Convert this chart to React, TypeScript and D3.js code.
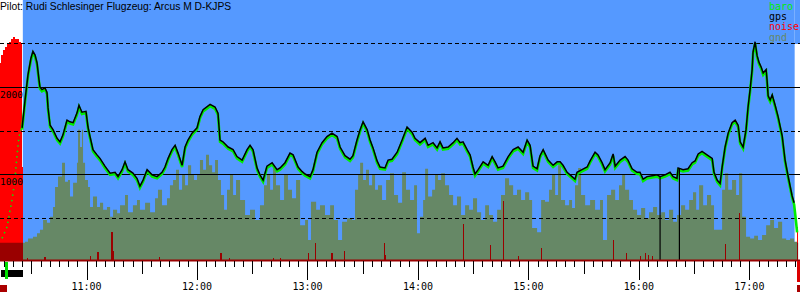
import React from "react";
import * as d3 from "d3";

const W = 800;
const H = 300;

const title = "Pilot: Rudi Schlesinger Flugzeug: Arcus M D-KJPS";
const legendNames = ["baro", "gps", "noise", "gnd"];
const legendColors = ["#00ee00", "#000000", "#ff0000", "#668866"];
const solidLevels = [1000, 2000];
const dashedLevels = [500, 1500, 2500];
const altLabels = [1000, 2000];

// time in minutes after 10:00
const timeDomain = [13, 447.5];
const flightWindow = [25.4, 444.6];

const fixTimes = [
  25.0, 26.6, 28.2, 29.8, 30.9, 32.0, 33.1, 34.2, 34.7, 35.8,
  37.4, 38.5, 39.1, 40.2, 41.8, 44.0, 45.6, 47.2, 49.4, 51.0,
  52.7, 54.8, 55.9, 57.5, 59.7, 60.8, 61.9, 63.5, 65.7, 67.3,
  70.0, 72.8, 75.5, 77.1, 79.3, 80.9, 82.5, 85.2, 87.4, 89.0,
  90.7, 92.9, 95.6, 98.3, 101.0, 102.6, 104.3, 106.4, 108.1, 109.7,
  111.9, 113.5, 115.1, 117.3, 120.0, 121.6, 123.3, 127.1, 129.8, 131.4,
  132.5, 134.1, 136.9, 139.6, 141.7, 144.5, 147.2, 148.8, 150.4, 152.6,
  154.2, 155.9, 158.0, 160.8, 163.5, 165.1, 167.8, 170.5, 172.2, 174.9,
  177.0, 178.7, 181.4, 183.0, 185.2, 187.9, 190.6, 193.3, 196.1, 197.7,
  200.4, 203.1, 204.7, 206.9, 208.6, 210.2, 212.4, 214.0, 215.6, 217.8,
  219.4, 222.1, 223.8, 225.9, 228.7, 231.4, 234.1, 236.8, 238.4, 241.1,
  243.9, 245.5, 248.2, 250.4, 252.0, 253.6, 256.4, 259.1, 261.2, 262.9,
  264.5, 266.7, 268.3, 269.9, 271.0, 272.7, 275.4, 278.1, 280.3, 281.9,
  283.5, 286.2, 289.0, 291.7, 294.4, 297.1, 299.3, 300.9, 302.5, 304.7,
  306.3, 308.0, 310.7, 313.4, 315.6, 317.2, 318.8, 321.0, 323.7, 325.3,
  326.4, 329.1, 331.9, 333.5, 336.2, 337.8, 340.0, 341.6, 344.4, 346.0,
  347.1, 349.8, 352.5, 354.1, 356.3, 359.0, 360.6, 362.3, 364.4, 367.2,
  369.9, 371.5, 374.2, 376.9, 378.6, 380.7, 381.3, 384.0, 386.7, 388.9,
  390.5, 392.2, 394.3, 397.0, 399.8, 400.8, 402.5, 404.1, 405.2, 406.8,
  408.5, 410.6, 412.3, 413.9, 415.0, 416.6, 418.2, 419.3, 420.4, 421.5,
  422.0, 423.1, 424.2, 425.3, 426.4, 427.5, 429.1, 429.6, 430.2, 431.3,
  432.4, 434.0, 435.6, 437.8, 439.4, 441.0, 443.2, 444.3, 445.4, 445.9,
];

const gpsAlt = [
  1530, 1850, 2140, 2330, 2410, 2370, 2280, 2080, 2000, 1970,
  1990, 1940, 1760, 1560, 1510, 1410, 1370, 1450, 1620, 1600,
  1590, 1700, 1790, 1710, 1720, 1540, 1430, 1280, 1220, 1180,
  1090, 1010, 1020, 970, 1050, 1140, 1050, 1010, 950, 860,
  930, 1050, 990, 970, 1020, 1080, 1180, 1280, 1330, 1240,
  1100, 1310, 1390, 1470, 1530, 1660, 1740, 1800, 1770, 1700,
  1390, 1370, 1310, 1280, 1200, 1160, 1280, 1330, 1280, 1070,
  990, 930, 1090, 1130, 1050, 1070, 1130, 1240, 1220, 1080,
  1030, 1000, 970, 1050, 1250, 1360, 1430, 1470, 1430, 1310,
  1210, 1170, 1210, 1390, 1510, 1600, 1510, 1390, 1300, 1150,
  1080, 1070, 1160, 1170, 1250, 1390, 1540, 1480, 1410, 1360,
  1410, 1330, 1360, 1300, 1370, 1300, 1310, 1360, 1410, 1360,
  1370, 1280, 1220, 1080, 1000, 1050, 1140, 1100, 1200, 1140,
  1070, 1090, 1200, 1280, 1310, 1250, 1390, 1330, 1090, 1060,
  1210, 1280, 1160, 1100, 1140, 1140, 1100, 1020, 970, 940,
  1020, 1050, 1080, 1150, 1250, 1220, 1130, 1050, 1130, 1230,
  1090, 1160, 1200, 1160, 1060, 1020, 1020, 940, 970, 980,
  990, 970, 990, 1020, 970, 950, 1070, 1050, 1060, 1130,
  1150, 1230, 1260, 1220, 1180, 1020, 930, 890, 1080, 1310,
  1470, 1590, 1620, 1560, 1370, 1310, 1510, 1770, 1970, 2200,
  2400, 2520, 2360, 2280, 2230, 2160, 2200, 2080, 1900, 1850,
  1910, 1790, 1660, 1440, 1160, 980, 750, 670, null, null,
];

const baroAlt = [
  1510, 1830, 2120, 2310, 2390, 2350, 2260, 2060, 1980, 1950,
  1970, 1920, 1740, 1540, 1490, 1390, 1350, 1430, 1600, 1580,
  1570, 1680, 1770, 1690, 1700, 1520, 1410, 1260, 1200, 1160,
  1070, 990, 1000, 950, 1030, 1120, 1030, 990, 930, 840,
  910, 1030, 970, 950, 1000, 1060, 1160, 1260, 1310, 1220,
  1080, 1290, 1370, 1450, 1510, 1640, 1720, 1780, 1750, 1680,
  1370, 1350, 1290, 1260, 1180, 1140, 1260, 1310, 1260, 1050,
  970, 910, 1070, 1110, 1030, 1050, 1110, 1220, 1200, 1060,
  1010, 980, 950, 1030, 1230, 1340, 1410, 1450, 1410, 1290,
  1190, 1150, 1190, 1370, 1490, 1580, 1490, 1370, 1280, 1130,
  1060, 1050, 1140, 1150, 1230, 1370, 1520, 1460, 1390, 1340,
  1390, 1310, 1340, 1280, 1350, 1280, 1290, 1340, 1390, 1340,
  1350, 1260, 1200, 1060, 980, 1030, 1120, 1080, 1180, 1120,
  1050, 1070, 1180, 1260, 1290, 1230, 1370, 1310, 1070, 1040,
  1190, 1260, 1140, 1080, 1120, 1120, 1080, 1000, 950, 920,
  1000, 1030, 1060, 1130, 1230, 1200, 1110, 1030, 1110, 1210,
  1070, 1140, 1180, 1140, 1040, 1000, 1000, 920, 950, 960,
  970, 950, 970, 1000, 950, 930, 1050, 1030, 1040, 1110,
  1130, 1210, 1240, 1200, 1160, 1000, 910, 870, 1060, 1290,
  1450, 1570, 1600, 1540, 1350, 1290, 1490, 1750, 1950, 2180,
  2380, 2500, 2340, 2260, 2210, 2140, 2180, 2060, 1880, 1830,
  1890, 1770, 1640, 1420, 1140, 960, 730, 650, 440, 330,
];

// GPS dropouts (fix reported as 0 m): [time, altitude before dropout]
const gpsDropouts = [
  [371.5, 970],
  [382.0, 1065],
];

// engine climb before release (baro only)
const climbTimes = [14.1, 16.8, 19.5, 21.1, 22.2, 23.3, 24.4, 25.0];
const climbBaro = [260, 390, 700, 930, 1200, 1430, 1510, 1510];

const gndTimes = [
  13.0, 25.5, 26.6, 28.2, 30.9, 33.1, 34.7, 36.4, 38.5, 40.2,
  41.8, 42.9, 44.5, 46.7, 48.3, 49.9, 51.0, 52.7, 54.8, 55.4,
  56.5, 57.5, 58.1, 59.2, 60.8, 61.9, 63.5, 65.7, 67.3, 69.0,
  71.1, 72.8, 74.4, 76.6, 78.2, 80.9, 82.5, 85.2, 87.4, 89.0,
  91.8, 94.5, 97.2, 98.8, 101.0, 103.7, 105.3, 107.0, 108.6, 110.2,
  111.9, 113.5, 115.1, 116.8, 118.4, 120.0, 121.6, 123.3, 124.9, 126.5,
  128.2, 129.8, 131.4, 133.0, 134.7, 136.3, 137.9, 139.6, 141.2, 143.4,
  146.1, 148.8, 151.5, 154.2, 156.4, 158.0, 159.7, 161.3, 162.9, 165.1,
  167.3, 169.4, 171.6, 173.8, 176.0, 178.7, 180.3, 181.9, 184.7, 186.8,
  189.5, 192.3, 194.4, 196.6, 198.8, 201.5, 204.2, 205.8, 207.5, 208.6,
  210.2, 211.8, 213.4, 215.1, 216.7, 218.3, 220.5, 222.7, 224.8, 227.0,
  229.2, 231.4, 233.5, 235.7, 237.9, 239.5, 241.1, 242.8, 243.9, 245.5,
  247.7, 249.3, 250.9, 252.6, 254.7, 256.9, 259.1, 261.2, 263.4, 265.6,
  267.8, 269.9, 272.1, 274.3, 276.5, 278.6, 280.8, 283.0, 285.1, 287.3,
  289.5, 291.7, 293.8, 296.0, 298.2, 300.4, 302.0, 304.7, 306.9, 309.0,
  311.2, 312.8, 314.5, 316.1, 317.7, 319.9, 322.1, 323.7, 325.3, 327.0,
  328.6, 330.8, 333.5, 336.2, 338.9, 340.5, 342.7, 344.9, 347.1, 349.2,
  350.9, 352.5, 354.7, 356.8, 359.0, 361.2, 363.4, 365.5, 367.7, 369.9,
  372.1, 374.2, 376.4, 378.6, 380.7, 382.9, 385.1, 387.3, 389.4, 391.1,
  392.7, 394.9, 397.0, 399.2, 400.8, 403.0, 405.2, 406.8, 408.5, 410.6,
  412.8, 414.4, 416.1, 418.2, 420.4, 422.6, 424.7, 426.9, 429.1, 431.3,
  433.4, 435.6, 437.8, 440.0, 442.1, 444.3, 445.9, 446.5,
];

const gndAlt = [
  210, 210, 220, 260, 280, 320, 360, 470, 440, 510,
  620, 850, 970, 1130, 910, 930, 740, 900, 1130, 1510,
  1310, 1510, 1130, 930, 850, 620, 740, 620, 670, 590,
  620, 510, 590, 550, 640, 760, 560, 640, 700, 590,
  670, 560, 720, 820, 640, 720, 870, 930, 1050, 820,
  990, 870, 1100, 990, 930, 990, 1160, 1050, 1220, 1100,
  1020, 1160, 930, 760, 590, 820, 990, 760, 930, 700,
  530, 590, 470, 640, 870, 990, 820, 1070, 870, 700,
  990, 820, 720, 930, 410, 470, 240, 680, 590, 640,
  530, 640, 470, 240, 450, 490, 470, 820, 990, 1130,
  930, 1050, 870, 990, 820, 870, 700, 930, 1010, 760,
  670, 1020, 820, 700, 870, 320, 510, 700, 1060, 740,
  820, 990, 930, 1010, 870, 760, 640, 740, 530, 640,
  590, 720, 560, 470, 640, 530, 450, 590, 760, 950,
  870, 760, 820, 700, 790, 700, 380, 330, 700, 680,
  820, 990, 760, 1100, 700, 640, 700, 610, 870, 1070,
  760, 640, 700, 590, 700, 240, 760, 820, 700, 870,
  990, 820, 700, 590, 530, 610, 490, 560, 620, 530,
  560, 470, 590, 450, 530, 640, 590, 700, 790, 590,
  870, 640, 760, 640, 360, 360, 820, 1010, 820, 930,
  760, 1010, 510, 280, 260, 290, 240, 300, 410, 470,
  380, 450, 260, 240, 260, 220, 210, 210,
];

// engine noise level (0..100) during the launch climb
const launchNoiseTimes = [13.0, 13.8, 14.6, 15.7, 16.8, 17.9, 19.0, 20.1, 21.1, 22.2, 23.3, 24.4, 24.8, 25.5];
const launchNoise = [76, 79, 81, 82, 83, 84, 85, 86, 85, 85, 84, 83, 36, 0];

// noise spikes during the flight (0..100)
const noiseTimes = [
  27.7, 37.4, 61.9, 66.2, 73.8, 74.4, 99.4, 133.0, 137.4, 161.3,
  165.1, 180.3, 184.1, 193.3, 199.9, 221.6, 222.1, 264.5, 279.2, 286.2,
  294.4, 306.9, 346.0, 353.1, 360.6, 363.4, 365.0, 367.2, 406.8, 414.4,
  445.9,
];
const noiseLevels = [
  1, 1.5, 2, 3.5, 11, 4, 1.5, 3, 1, 1,
  1, 3, 7, 3, 4, 7, 2.3, 14, 6, 23,
  2, 5, 8, 3, 2, 3, 2.3, 2, 6.5, 18.4,
  13,
];

// markers under the time axis
const engineRuns = [[13.5, 25.3]];
const releaseMarks = [16.3];
const noiseMarks = [[13.0, 16.6], [445.9, 447.3]];

const fmt = (m: number) => `${Math.floor(m / 60) + 10}:${String(m % 60).padStart(2, "0")}`;

export default function App() {
  const x = d3.scaleLinear().domain(timeDomain).range([0, W]);
  const y = d3.scaleLinear().domain([0, 3000]).range([261, 0]);
  const ny = d3.scaleLinear().domain([0, 100]).range([261, 0]);

  const gnd = gndTimes.map((t, i) => [t, gndAlt[i]] as [number, number]);
  const gndPath = d3
    .area<[number, number]>()
    .x((d) => x(d[0]))
    .y0(y(0))
    .y1((d) => y(d[1]))
    .curve(d3.curveStepAfter)(gnd) as string;

  const launch = launchNoiseTimes.map((t, i) => [t, launchNoise[i]] as [number, number]);
  const launchPath = d3
    .area<[number, number]>()
    .x((d) => x(d[0]))
    .y0(ny(0))
    .y1((d) => ny(d[1]))
    .curve(d3.curveStepAfter)(launch) as string;

  const fixes = fixTimes.map((t, i) => ({ t, gps: gpsAlt[i], baro: baroAlt[i] }));
  const gpsLine = d3
    .line<any>()
    .defined((d) => d.gps != null)
    .x((d) => x(d.t))
    .y((d) => y(d.gps))(fixes) as string;
  const baroLine = d3
    .line<any>()
    .x((d) => x(d.t))
    .y((d) => y(d.baro))(fixes) as string;
  const climbLine = d3
    .line<number>()
    .x((d) => x(d))
    .y((_, i) => y(climbBaro[i]))(climbTimes) as string;

  const ticks = d3.range(15, timeDomain[1], 5);

  const noiseBars = (color: string) => (
    <g fill={color} shapeRendering="crispEdges">
      <path d={launchPath} />
      {noiseTimes.map((t, i) => (
        <rect key={i} x={x(t) - 0.5} width={1.3} y={ny(noiseLevels[i])} height={ny(0) - ny(noiseLevels[i])} />
      ))}
    </g>
  );

  return (
    <div style={{ position: "absolute", left: 0, top: 0 }}>
      <svg width={W} height={H} style={{ display: "block", background: "#ffffff" }}>
        <defs>
          <clipPath id="gndClip">
            <path d={gndPath} />
          </clipPath>
        </defs>
        {/* sky during flight */}
        <rect x={x(flightWindow[0])} y={0} width={x(flightWindow[1]) - x(flightWindow[0])} height={y(0)} fill="#5599ff" />
        <rect x={x(flightWindow[1])} y={0} width={W - x(flightWindow[1])} height={44} fill="#5599ff" />
        {/* ground */}
        <path d={gndPath} fill="#668866" />
        {/* noise */}
        {noiseBars("#ff0000")}
        <g clipPath="url(#gndClip)">{noiseBars("#9a0000")}</g>
        {/* altitude grid */}
        <g shapeRendering="crispEdges">
          {solidLevels.map((v) => (
            <line key={v} x1={0} x2={W} y1={Math.round(y(v)) + 0.5} y2={Math.round(y(v)) + 0.5} stroke="#000" strokeWidth={1} />
          ))}
          {dashedLevels.map((v) => (
            <line key={v} x1={0} x2={W} y1={Math.round(y(v)) + 0.5} y2={Math.round(y(v)) + 0.5} stroke="#000" strokeWidth={1} strokeDasharray="4,3" />
          ))}
        </g>
        {/* barograph */}
        <path d={climbLine} fill="none" stroke="#00ee00" strokeWidth={1.5} strokeDasharray="1.5,4" />
        <path d={baroLine} fill="none" stroke="#00ee00" strokeWidth={2.6} />
        <path d={gpsLine} fill="none" stroke="#000" strokeWidth={1.5} />
        {gpsDropouts.map(([t, a], i) => (
          <line key={i} x1={x(t)} x2={x(t)} y1={y(a)} y2={y(0)} stroke="#000" strokeWidth={1.2} />
        ))}
        {/* axis */}
        <line x1={0} x2={W} y1={y(0) - 0.5} y2={y(0) - 0.5} stroke="#9a0000" strokeWidth={2} />
        <g stroke="#000" strokeWidth={1} shapeRendering="crispEdges">
          {ticks.map((t) => {
            const len = t % 60 === 0 ? 19 : t % 30 === 0 ? 13 : 6;
            const px = Math.round(x(t)) + 0.5;
            return <line key={t} x1={px} x2={px} y1={261} y2={261 + len} />;
          })}
        </g>
        <g fontFamily="DejaVu Sans Mono" fontSize={10} textAnchor="middle" fill="#000">
          {ticks
            .filter((t) => t % 60 === 0)
            .map((t) => (
              <text key={t} x={x(t)} y={290}>
                {fmt(t)}
              </text>
            ))}
        </g>
        {/* markers below axis */}
        <g shapeRendering="crispEdges">
          {engineRuns.map(([a, b], i) => (
            <rect key={i} x={x(a)} y={270} width={x(b) - x(a)} height={7} fill="#000" />
          ))}
          {releaseMarks.map((t, i) => (
            <rect key={i} x={x(t) - 1} y={262} width={2.5} height={17} fill="#00dd00" />
          ))}
          {noiseMarks.map(([a, b], i) => (
            <g key={i}>
              <rect x={x(a)} y={285} width={x(b) - x(a)} height={7} fill="#aa0000" />
              {i > 0 && <rect x={x(a)} y={261} width={x(b) - x(a)} height={21} fill="#dd0000" />}
            </g>
          ))}
        </g>
        {/* altitude labels */}
        <g fontFamily="DejaVu Sans Mono" fontSize={9.5} fill="#000">
          {altLabels.map((v) => (
            <text key={v} x={0} y={y(v) + 11}>
              {v}
            </text>
          ))}
        </g>
        {/* title */}
        <text x={0} y={10} fontFamily="Liberation Sans" fontSize={10.3} fill="#000">
          {title}
        </text>
        {/* legend */}
        <g fontFamily="DejaVu Sans Mono" fontSize={10}>
          {legendNames.map((n, i) => (
            <text key={n} x={769} y={10 + i * 10.2} fill={legendColors[i]}>
              {n}
            </text>
          ))}
        </g>
      </svg>
    </div>
  );
}
